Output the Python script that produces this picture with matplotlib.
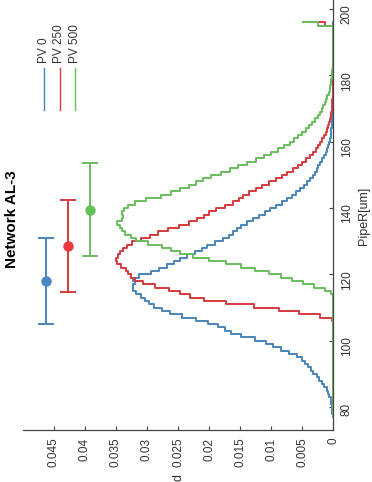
import numpy as np
import matplotlib
matplotlib.use("Agg")
import matplotlib.pyplot as plt
from matplotlib.lines import Line2D

plt.rcParams['font.family'] = ['Liberation Sans', 'DejaVu Sans']

# pipe radius grid [um]
radius = np.arange(77, 197)

# probability density per radius bin
pnd_pv0 = [
    0, 0.0001, 0.0001, 0.0002, 0.0002, 0.0003, 0.0005, 0.0007, 0.0009, 0.0012,
    0.0016, 0.0020, 0.0024, 0.0029, 0.0034, 0.0038, 0.0043, 0.0048, 0.0053, 0.0064,
    0.0077, 0.0090, 0.0103, 0.0112, 0.0140, 0.0158, 0.0170, 0.0180, 0.0192, 0.0210,
    0.0232, 0.0255, 0.0270, 0.0282, 0.0295, 0.0300, 0.0305, 0.0314, 0.0322, 0.0324,
    0.0321, 0.0318, 0.0326, 0.0300, 0.0287, 0.0275, 0.0262, 0.0250, 0.0242, 0.0230,
    0.0216, 0.0208, 0.0198, 0.0183, 0.0172, 0.0165, 0.0158, 0.0152, 0.0144, 0.0133,
    0.0125, 0.0114, 0.0105, 0.0097, 0.0088, 0.0078, 0.0070, 0.0062, 0.0056, 0.0050,
    0.0045, 0.0039, 0.0034, 0.0031, 0.0028, 0.0025, 0.0022, 0.0019, 0.0016, 0.0013,
    0.0011, 0.0009, 0.0007, 0.0006, 0.0005, 0.0003, 0.0003, 0.0002, 0.0002, 0.0001,
    0.0001, 0.0001, 0, 0, 0, 0, 0, 0, 0, 0,
    0, 0, 0, 0, 0, 0, 0, 0, 0, 0,
    0, 0, 0, 0, 0, 0, 0, 0, 0, 0,
]
pnd_pv250 = [
    0, 0, 0, 0, 0, 0, 0, 0, 0, 0,
    0, 0, 0, 0, 0, 0, 0, 0, 0, 0,
    0, 0, 0, 0, 0, 0, 0, 0, 0, 0,
    0.0003, 0.0040, 0.0070, 0.0105, 0.0150, 0.0195, 0.0220, 0.0240, 0.0255, 0.0275,
    0.0298, 0.0316, 0.0324, 0.0329, 0.0332, 0.0337, 0.0346, 0.0350, 0.0349, 0.0345,
    0.0342, 0.0336, 0.0330, 0.0318, 0.0300, 0.0290, 0.0275, 0.0258, 0.0240, 0.0225,
    0.0214, 0.0203, 0.0198, 0.0180, 0.0170, 0.0152, 0.0150, 0.0140, 0.0130, 0.0120,
    0.0108, 0.0097, 0.0088, 0.0078, 0.0070, 0.0060, 0.0054, 0.0046, 0.0040, 0.0034,
    0.0030, 0.0026, 0.0022, 0.0019, 0.0016, 0.0013, 0.0011, 0.0009, 0.0007, 0.0006,
    0.0004, 0.0003, 0.0002, 0.0002, 0.0001, 0.0001, 0.0001, 0, 0, 0,
    0, 0, 0, 0, 0, 0, 0, 0, 0, 0,
    0, 0, 0, 0, 0, 0, 0, 0, 0, 0.0027,
]
pnd_pv500 = [
    0, 0, 0, 0, 0, 0, 0, 0, 0, 0,
    0, 0, 0, 0, 0, 0, 0, 0, 0, 0,
    0, 0, 0, 0, 0, 0, 0, 0, 0, 0,
    0, 0, 0, 0, 0, 0, 0, 0, 0.0005, 0.0022,
    0.0040, 0.0056, 0.0075, 0.0092, 0.0115, 0.0138, 0.0160, 0.0185, 0.0215, 0.0238,
    0.0255, 0.0267, 0.0285, 0.0312, 0.0322, 0.0330, 0.0342, 0.0338, 0.0350, 0.0346,
    0.0335, 0.0342, 0.0338, 0.0335, 0.0326, 0.0312, 0.0290, 0.0266, 0.0255, 0.0238,
    0.0228, 0.0215, 0.0204, 0.0188, 0.0173, 0.0160, 0.0145, 0.0132, 0.0118, 0.0106,
    0.0095, 0.0084, 0.0074, 0.0066, 0.0059, 0.0053, 0.0047, 0.0041, 0.0036, 0.0031,
    0.0027, 0.0023, 0.0020, 0.0017, 0.0014, 0.0012, 0.0010, 0.0008, 0.0006, 0.0005,
    0.0004, 0.0003, 0.0002, 0.0002, 0.0001, 0.0001, 0, 0, 0, 0,
    0, 0, 0, 0, 0, 0, 0, 0, 0, 0.0048,
]

# mean radius +/- std per case, drawn at a fixed pnd height
labels = ['PV 0', 'PV 250', 'PV 500']
mean_r = [118.0, 128.5, 139.5]
std_r = [13.0, 13.8, 14.0]
bar_pnd = [0.0463, 0.0428, 0.0392]

colors = ['#4a84b8', '#d63a3e', '#69bd5c']
dot_colors = ['#4a86c2', '#e83a3e', '#63c257']

pnd_ticks = [0, 0.005, 0.01, 0.015, 0.02, 0.025, 0.03, 0.035, 0.04, 0.045]
pnd_ticklabels = ['0', '0.005', '0.01', '0.015', '0.02', '0.025', '0.03', '0.035', '0.04', '0.045']
r_ticks = [80, 100, 120, 140, 160, 180, 200]

fig = plt.figure(figsize=(3.72, 4.82), dpi=100)
ax = fig.add_axes([0.0618, 0.1079, 0.8334, 0.8921])

# plot is turned on its side: radius runs up, pnd runs right-to-left
for series, c in zip([pnd_pv0, pnd_pv250, pnd_pv500], colors):
    ax.plot(series, radius, drawstyle='steps-mid', color=c, lw=1.4)

for x, m, s, c, dc in zip(bar_pnd, mean_r, std_r, colors, dot_colors):
    ax.errorbar(x, m, yerr=s, fmt='o', color=c, mfc=dc, mec=dc, ms=6.5,
                capsize=6, elinewidth=1.4, capthick=1.4)

ax.set_xlim(0.05, 0)
ax.set_ylim(73.1, 202.7)
ax.set_xticks(pnd_ticks)
ax.set_xticklabels(pnd_ticklabels)
ax.set_yticks(r_ticks)
ax.yaxis.tick_right()

for side in ['top', 'left']:
    ax.spines[side].set_visible(False)
for side in ['bottom', 'right']:
    ax.spines[side].set_color('#444444')
    ax.spines[side].set_linewidth(0.9)

ax.tick_params(axis='both', direction='in', length=3, width=0.8, color='#444444',
               labelsize=8.5, labelcolor='#333333', pad=5.5)
ax.tick_params(axis='x', labelrotation=90)
ax.tick_params(axis='y', labelrotation=90, left=False, right=True)

fig.text(12 / 372, 1 - 219 / 482, 'Network AL-3', rotation=90, ha='center', va='center',
         fontsize=11, fontweight='bold')
fig.text(364 / 372, 1 - 216 / 482, 'PipeR[um]', rotation=90, ha='center', va='center',
         fontsize=9, color='#333333')
# axis name sits right at the lower edge, under the 0.025 label
fig.text(178 / 372, 1 - 484 / 482, 'pnd', rotation=90, ha='center', va='center',
         fontsize=9, color='#333333')

# legend entries stacked sideways in the top-left corner
for i, (lab, c) in enumerate(zip(labels, colors)):
    lx = (44 + 15.5 * i) / 372
    fig.add_artist(Line2D([lx, lx], [1 - 68 / 482, 1 - 110 / 482], color=c, lw=1.0,
                          transform=fig.transFigure))
    fig.text(lx, 1 - 63 / 482, lab, rotation=90, rotation_mode='anchor',
             ha='left', va='center', fontsize=8.5, color='#333333')

fig.savefig('out.png', dpi=100)
